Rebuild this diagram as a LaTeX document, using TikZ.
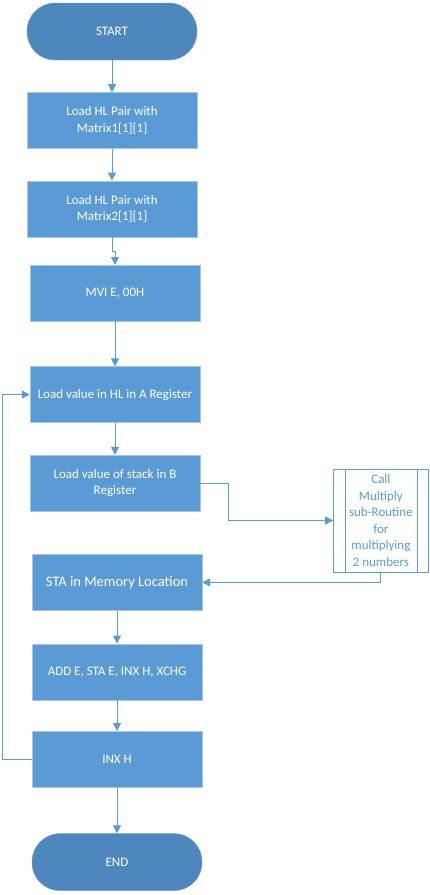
\documentclass[tikz,border=0pt]{standalone}
\usepackage{fontspec}
\setmainfont{Carlito}
\usetikzlibrary{positioning,arrows.meta}
\definecolor{boxblue}{RGB}{91,155,213}
\definecolor{termblue}{RGB}{78,135,189}
\definecolor{rimblue}{RGB}{168,198,230}

\begin{document}
\begin{tikzpicture}[x=1pt, y=1pt, node distance=32pt, font=\fontsize{13}{16.5}\selectfont]
		\tikzstyle{terminal} = [rectangle, rounded corners=28pt, fill=termblue, draw=termblue!80!white, text=white, minimum width=170pt, minimum height=57pt, align=center];
		\tikzstyle{process} = [rectangle, fill=boxblue, draw=rimblue, text=white, minimum width=170pt, minimum height=56pt, align=center];
		\tikzstyle{subroutine} = [rectangle, fill=white, draw=boxblue, text=boxblue, minimum width=95pt, minimum height=103pt, align=center];
		\tikzstyle{flow} = [draw=boxblue, line width=1pt, -{Triangle[length=8pt, width=8pt]}];
		
		\useasboundingbox (0,0) rectangle (429,-895);
		
		\node[terminal] at (112,-31.5) (start){START};
		\node[process, below = of start](load hl1){Load HL Pair with \\ Matrix1[1][1]};
		\node[process, below = of load hl1](load hl2){Load HL Pair with \\ Matrix2[1][1]};
		\node[process, below = 28pt of load hl2, xshift=3pt](mvi){MVI E, 00H};
		\node[process, below = 45pt of mvi](load a){Load value in HL in A Register};
		\node[process, below = of load a](load b){Load value of stack in B \\ Register};
		\node[subroutine, right = 133pt of load b, yshift=-37.5pt](multiply){Call \\ Multiply \\ sub-Routine \\ for \\ multiplying \\ 2 numbers};
		\node[process, below = 43pt of load b, xshift=2pt, font=\fontsize{14.5}{17}\selectfont](sta){STA in Memory Location};
		\node[process, below = 33pt of sta](add){ADD E, STA E, INX H, XCHG};
		\node[process, below = 31pt of add](inx){INX H};
		\node[terminal, below = 46pt of inx](end){END};
		
		% side bars of the sub-routine box
		\draw[boxblue] ([xshift=12pt]multiply.north west) -- ([xshift=12pt]multiply.south west);
		\draw[boxblue] ([xshift=-11pt]multiply.north east) -- ([xshift=-11pt]multiply.south east);
		
		\path[flow] (start) -- (load hl1);
		\path[flow] (load hl1) -- (load hl2);
		\path[flow] (load hl2.south) -- ++(0,-14) -| (mvi.north);
		\path[flow] (mvi) -- (load a);
		\path[flow] (load a) -- (load b);
		\path[flow] (load b.east) -- ++(28,0) |- (multiply.west);
		\path[flow] (multiply.south) |- (sta.east);
		\path[flow] (sta) -- (add);
		\path[flow] (add) -- (inx);
		\path[flow] (inx) -- (end);
		\path[flow] (inx.west) -- ++(-29,0) |- (load a.west);
		\end{tikzpicture}
\end{document}
